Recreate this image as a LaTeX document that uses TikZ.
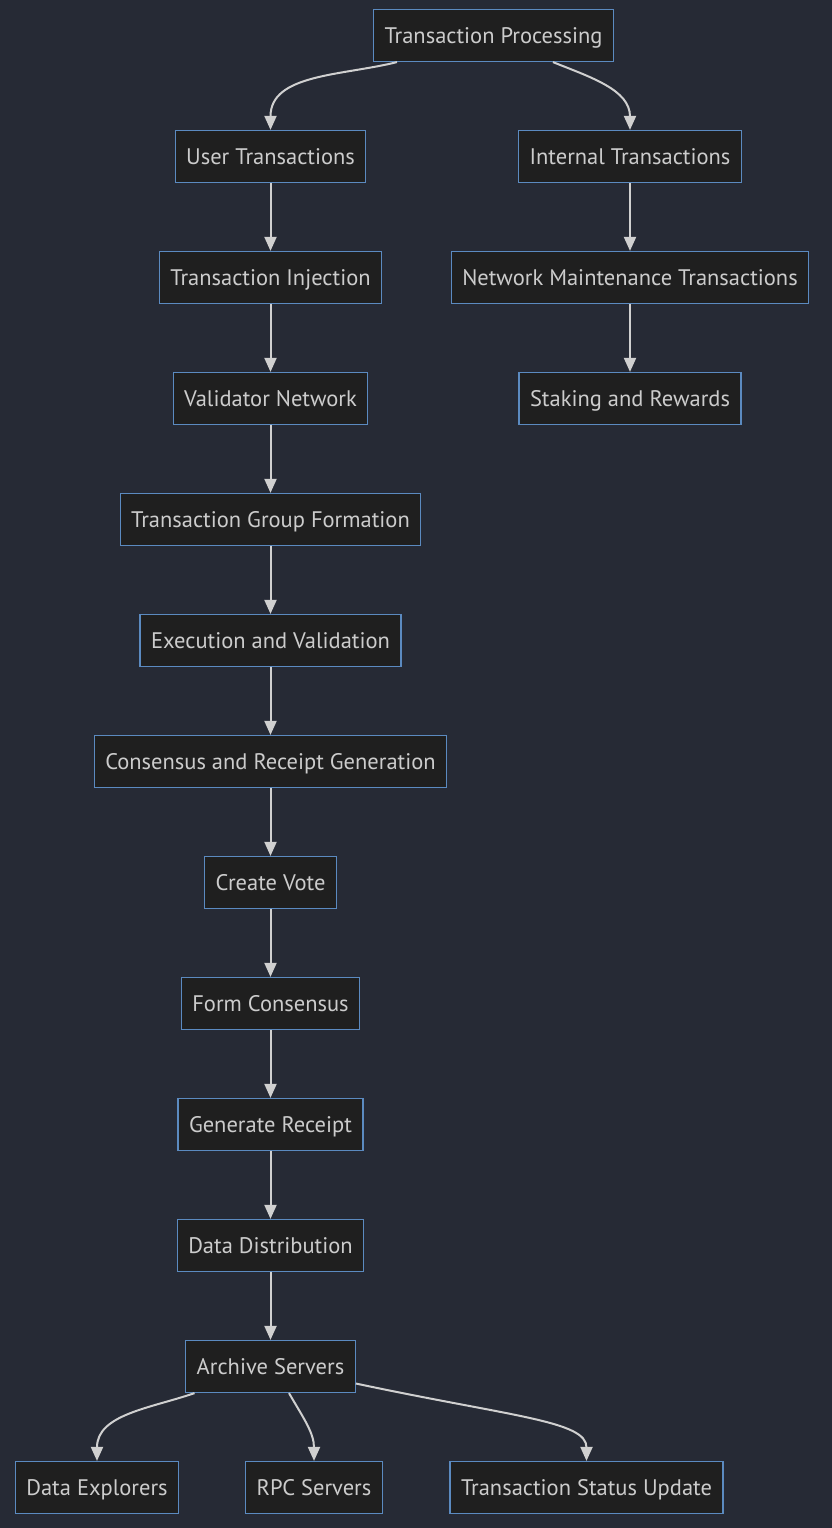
\documentclass[tikz,border=0pt]{standalone}
\usepackage{fontspec}
\setmainfont{PT Sans}
\usetikzlibrary{positioning,arrows.meta}
\definecolor{bgdark}{HTML}{262A35}
\definecolor{boxfill}{HTML}{1F1F1F}
\definecolor{boxline}{HTML}{5B8AC0}
\definecolor{boxtext}{HTML}{CCCCCC}
\definecolor{flowline}{HTML}{D0D0D0}

\begin{document}
\begin{tikzpicture}[
    x=1pt, y=1pt,
    node distance=67.8pt,
    stepbox/.style={rectangle, draw=boxline, fill=boxfill, line width=1.2pt, text=boxtext,
        font=\fontsize{22.5}{26}\selectfont, minimum height=52pt, inner ysep=0pt,
        text height=18.5pt, text depth=2.5pt, inner xsep=11pt},
    flow/.style={draw=flowline, line width=2pt, -{Triangle[width=12pt,length=14pt]}}
    ]
        \fill[bgdark] (0,0) rectangle (832,-1528);
        \useasboundingbox (0,0) rectangle (832,-1528);

        %Nodes
        \node[stepbox]    
            (proc)                  at (493.5,-35.5) {Transaction Processing};
        \node[stepbox]    
            (user)    [below=of proc, xshift=-223pt]   {User Transactions};
        \node[stepbox]    
            (internal)  [below=of proc, xshift=136.5pt]  {Internal Transactions};
        \node[stepbox]    
            (inject)  [below=of user]   {Transaction Injection};
        \node[stepbox]    
            (maint)   [below=of internal]   {Network Maintenance Transactions};
        \node[stepbox]    
            (stake)   [below=of maint]   {Staking and Rewards};
        \node[stepbox]    
            (valnet)  [below=of inject]   {Validator Network};
        \node[stepbox]    
            (group)   [below=of valnet]   {Transaction Group Formation};
        \node[stepbox]    
            (exec)    [below=of group]   {Execution and Validation};
        \node[stepbox]    
            (consensus) [below=of exec]   {Consensus and Receipt Generation};
        \node[stepbox]    
            (vote)    [below=of consensus]   {Create Vote};
        \node[stepbox]    
            (form)    [below=of vote]   {Form Consensus};
        \node[stepbox]    
            (receipt) [below=of form]   {Generate Receipt};
        \node[stepbox]    
            (distrib) [below=of receipt]   {Data Distribution};
        \node[stepbox]    
            (archive) [below=of distrib]   {Archive Servers};
        \node[stepbox]    
            (explore) [below=of archive, xshift=-173.5pt]   {Data Explorers};
        \node[stepbox]    
            (rpc)     [below=of archive, xshift=43.5pt]   {RPC Servers};
        \node[stepbox]    
            (status)  [below=of archive, xshift=316pt]   {Transaction Status Update};

        %Lines
        \draw[flow] ([xshift=-96.5pt]proc.south) to[out=194, in=90] (user.north);
        \draw[flow] ([xshift=59.5pt]proc.south) to[out=-22, in=90] (internal.north);
        \draw[flow] (user) -- (inject);
        \draw[flow] (internal) -- (maint);
        \draw[flow] (maint) -- (stake);
        \draw[flow] (inject) -- (valnet);
        \draw[flow] (valnet) -- (group);
        \draw[flow] (group) -- (exec);
        \draw[flow] (exec) -- (consensus);
        \draw[flow] (consensus) -- (vote);
        \draw[flow] (vote) -- (form);
        \draw[flow] (form) -- (receipt);
        \draw[flow] (receipt) -- (distrib);
        \draw[flow] (distrib) -- (archive);
        \draw[flow] ([xshift=-76pt]archive.south) to[out=199, in=90] (explore.north);
        \draw[flow] ([xshift=18.5pt]archive.south) to[out=-60, in=90] (rpc.north);
        \draw[flow] ([yshift=-17pt]archive.east) .. controls +(-12:160) and +(90:40) .. (status.north);
    \end{tikzpicture}
\end{document}
